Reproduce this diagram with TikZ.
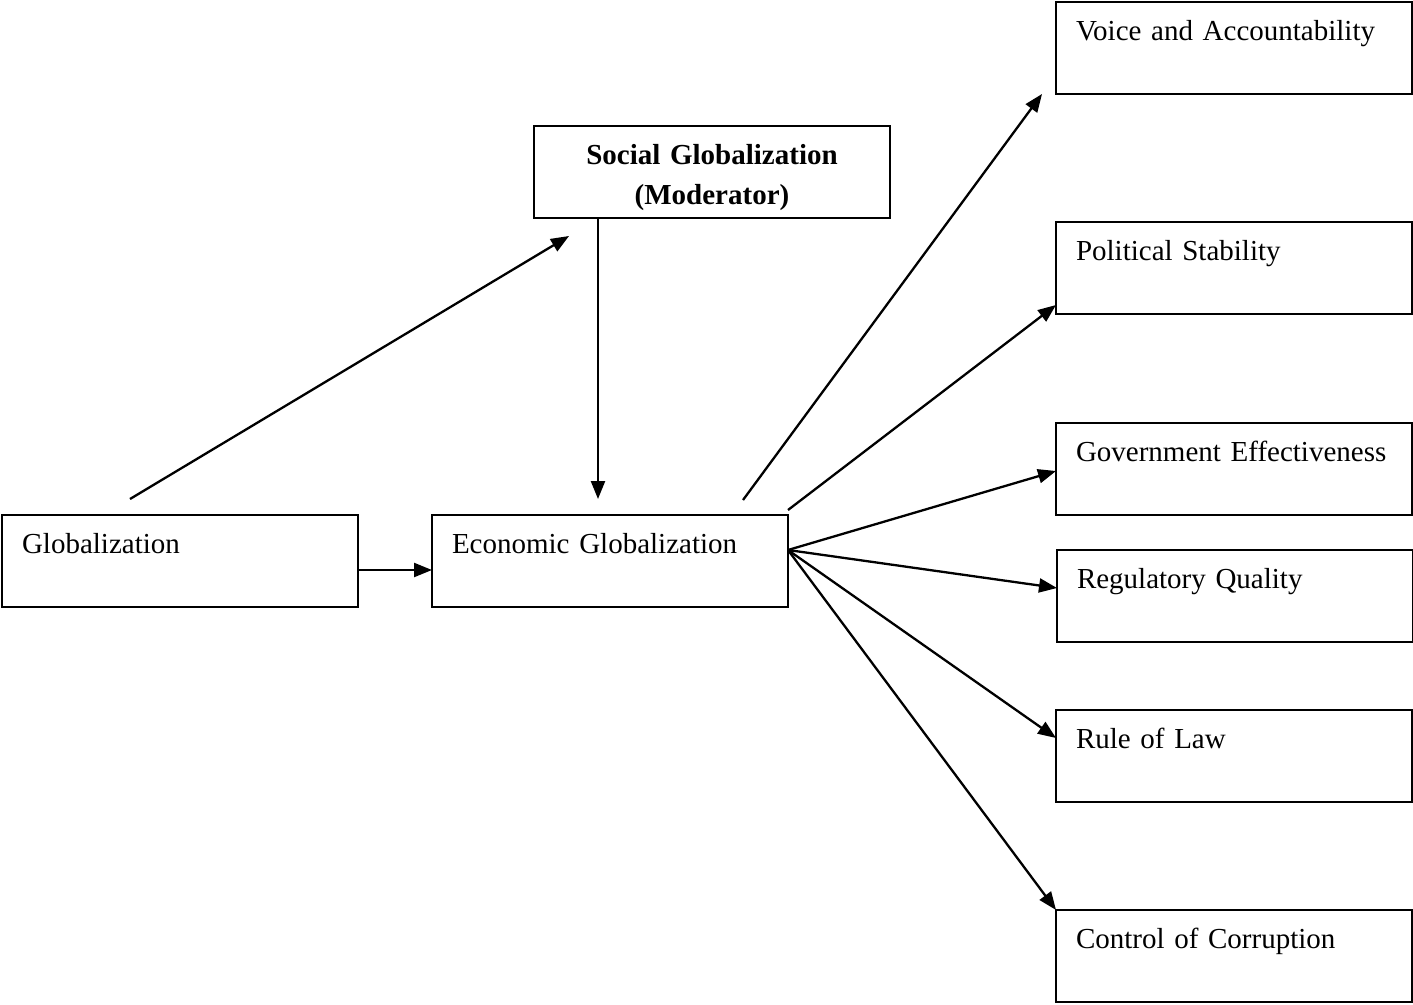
\documentclass[tikz,border=0pt]{standalone}
\usepackage{fontspec}
\setmainfont{Liberation Serif}
\usetikzlibrary{arrows.meta}

\tikzset{
  box/.style={draw,line width=2pt,rectangle,anchor=north west,outer sep=0pt,
    inner xsep=20pt,inner ysep=0pt,text width=316pt,align=left,
    text height=38pt,text depth=54pt,font=\fontsize{29}{40}\selectfont},
  link/.style={line width=2.3pt,-{Triangle[length=18pt,width=14pt]}}
}

\begin{document}
\begin{tikzpicture}[x=1pt,y=-1pt]
\useasboundingbox (0,0) rectangle (1413,1004);

% main chain
\node[box] (glob) at (2,515) {Globalization};
\node[box] (econ) at (432,515) {Economic Globalization};
\node[box,align=center,font=\fontsize{29}{40}\selectfont\bfseries] (soc) at (534,126) {Social Globalization\\(Moderator)};

% governance indicators
\node[box] (voice) at (1056,2) {Voice and Accountability};
\node[box] (pol) at (1056,222) {Political Stability};
\node[box] (gov) at (1056,423) {Government Effectiveness};
\node[box] (reg) at (1057,550) {Regulatory Quality};
\node[box] (rule) at (1056,710) {Rule of Law};
\node[box] (ctrl) at (1056,910) {Control of Corruption};

% free ends of the connectors
\coordinate (globout) at ([xshift=-50pt,yshift=16pt]glob.north);
\coordinate (socin) at ([xshift=35pt,yshift=-18pt]soc.south west);
\coordinate (socout) at ([xshift=64pt]soc.south west);
\coordinate (econin) at ([xshift=166pt,yshift=16pt]econ.north west);
\coordinate (fan) at ([yshift=11pt]econ.east);
\coordinate (voiceout) at ([xshift=-45pt,yshift=15pt]econ.north east);
\coordinate (polout) at ([yshift=5pt]econ.north east);

\draw[link] (globout) -- (socin);
\draw[link] (socout) -- (econin);
\draw[link] ([yshift=-9pt]glob.east) -- ([yshift=-9pt]econ.west);

\draw[link] (voiceout) -- ([xshift=-14pt]voice.south west);
\draw[link] (polout) -- ([yshift=9pt]pol.south west);
\draw[link] (fan) -- ([yshift=-2pt]gov.west);
\draw[link] (fan) -- ([yshift=8pt]reg.west);
\draw[link] (fan) -- ([yshift=-28pt]rule.north west);
\draw[link] (fan) -- (ctrl.north west);

\end{tikzpicture}
\end{document}
